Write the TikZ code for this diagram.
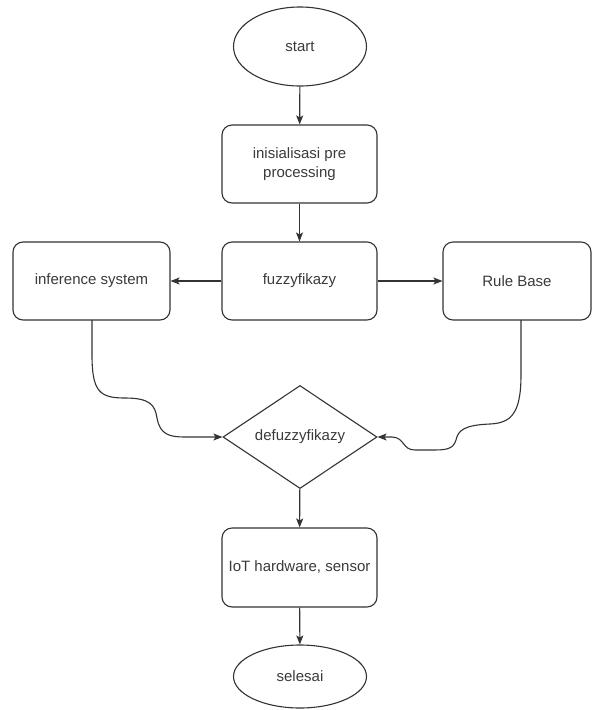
\documentclass[tikz,border=0pt]{standalone}
\usepackage{fontspec}
\setmainfont{Liberation Sans}
\usetikzlibrary{shapes.geometric,arrows.meta}
\definecolor{lc}{HTML}{333333}
\definecolor{tc}{HTML}{3A3A3A}
\begin{document}
\begin{tikzpicture}[x=1pt,y=-1pt,
  every node/.style={text=tc,font=\fontsize{15}{19}\selectfont},
  base/.style={draw=lc,line width=1.1pt,inner sep=0pt},
  procbox/.style={base,rectangle,rounded corners=10pt,minimum height=78pt,align=center},
  term/.style={base,ellipse,minimum width=133pt},
  decide/.style={base,diamond,aspect=1.5,minimum width=154pt,minimum height=103pt},
  conn/.style={draw=lc,line width=1.1pt,-{Stealth[length=9pt,width=7pt,inset=2pt]}}]
\useasboundingbox (0,0) rectangle (592,710);
\node[term,minimum height=79pt] (start) at (300,46.5) {start};
\node[procbox,minimum width=155pt] (init) at (299.5,164) {inisialisasi pre\\processing};
\node[procbox,minimum width=155pt] (fuzzy) at (299.5,281) {fuzzyfikazy};
\node[procbox,minimum width=157pt] (inf) at (91.5,281) {inference system};
\node[procbox,minimum width=148pt] (rule) at (517,281) {Rule Base};
\node[decide] (defuz) at (300,437) {defuzzyfikazy};
\node[procbox,minimum width=155pt,minimum height=79pt] (iot) at (299.5,567.5) {IoT hardware, sensor};
\node[term,minimum height=63pt] (end) at (300,676.5) {selesai};
\coordinate (infb) at (92,320);
\coordinate (ruleb) at (521,320);
\draw[conn] (start) -- (init);
\draw[conn] (init) -- (fuzzy);
\draw[conn] (fuzzy) -- (inf);
\draw[conn] (fuzzy) -- (rule);
\draw[conn] (defuz) -- (iot);
\draw[conn] (iot) -- (end);
\draw[conn] (infb) -- (92,355) .. controls (92,392) and (100,398) .. (125,398)
  .. controls (150,398) and (155,405) .. (157,418)
  .. controls (160,435) and (170,437) .. (185,437) -- (defuz.west);
\draw[conn] (ruleb) -- (521,375) .. controls (521,415) and (510,423) .. (490,424)
  .. controls (465,425) and (458,430) .. (456,440)
  .. controls (453,450) and (445,450) .. (430,450) -- (415,450)
  .. controls (402,450) and (405,437.5) .. (392,437) -- (defuz.east);
\end{tikzpicture}
\end{document}
